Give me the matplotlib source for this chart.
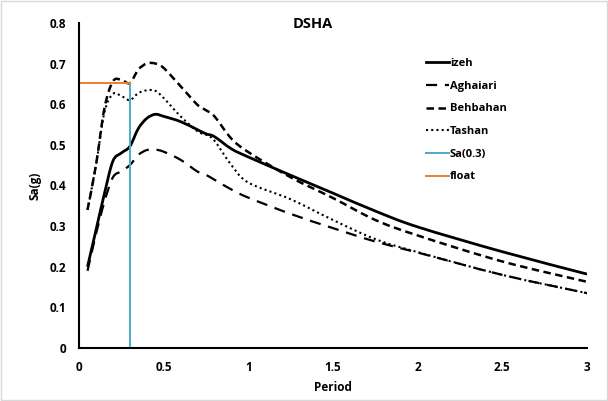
import matplotlib.pyplot as plt
from matplotlib.patches import Rectangle, PathPatch
from matplotlib.path import Path
from matplotlib.lines import Line2D

# Data.
period = [0.05, 0.1, 0.15, 0.2, 0.25, 0.3, 0.35, 0.4, 0.45, 0.5, 0.6, 0.7,
          0.75, 0.8, 0.9, 1.0, 1.25, 1.5, 1.75, 2.0, 2.5, 3.0]
izeh = [0.20, 0.29, 0.38, 0.46, 0.48, 0.496, 0.54, 0.565, 0.575, 0.57, 0.557,
        0.537, 0.527, 0.52, 0.49, 0.47, 0.425, 0.381, 0.337, 0.298, 0.237, 0.182]
aghaiari = [0.19, 0.28, 0.36, 0.42, 0.435, 0.45, 0.475, 0.487, 0.488, 0.483,
            0.463, 0.434, 0.426, 0.414, 0.39, 0.37, 0.33, 0.295, 0.262, 0.235,
            0.18, 0.135]
behbahan = [0.34, 0.45, 0.59, 0.656, 0.66, 0.652, 0.685, 0.70, 0.70, 0.689,
            0.644, 0.598, 0.585, 0.57, 0.515, 0.482, 0.42, 0.369, 0.315, 0.277,
            0.213, 0.163]
tashan = [0.34, 0.45, 0.58, 0.625, 0.62, 0.61, 0.627, 0.634, 0.633, 0.615,
          0.57, 0.533, 0.525, 0.51, 0.45, 0.407, 0.366, 0.315, 0.268, 0.236,
          0.18, 0.135]
sa_x = [0.3, 0.3]
sa_y = [0, 0.652]
float_x = [0, 0.3]
float_y = [0.652, 0.652]

plt.rcParams['font.family'] = ['Open Sans', 'DejaVu Sans']


def smooth_path(xs, ys):
    # Excel-like smoothed line: cubic Bezier segments through the points.
    pts = list(zip(xs, ys))
    n = len(pts)
    verts = [pts[0]]
    codes = [Path.MOVETO]
    for i in range(n - 1):
        p0 = pts[i - 1] if i > 0 else pts[i]
        p1 = pts[i]
        p2 = pts[i + 1]
        p3 = pts[i + 2] if i + 2 < n else pts[i + 1]
        c1 = (p1[0] + (p2[0] - p0[0]) / 6, p1[1] + (p2[1] - p0[1]) / 6)
        c2 = (p2[0] - (p3[0] - p1[0]) / 6, p2[1] - (p3[1] - p1[1]) / 6)
        verts += [c1, c2, p2]
        codes += [Path.CURVE4] * 3
    return Path(verts, codes)


fig = plt.figure(figsize=(6.08, 4.01), dpi=100)
ax = fig.add_axes([0.13, 0.132, 0.8355, 0.811])

styles = [
    ('izeh', izeh, dict(lw=2, linestyle='-')),
    ('Aghaiari', aghaiari, dict(lw=1.6, linestyle=(0, (5, 3.5)))),
    ('Behbahan', behbahan, dict(lw=1.8, linestyle=(0, (3, 1.8)))),
    ('Tashan', tashan, dict(lw=1.5, linestyle=(0, (1, 1.5)))),
]
handles = []
for name, vals, st in styles:
    ax.add_patch(PathPatch(smooth_path(period, vals), fill=False,
                           edgecolor='black', capstyle='butt', **st))
    handles.append(Line2D([], [], color='black', label=name, **st))

l1, = ax.plot(sa_x, sa_y, color='#4BACC6', lw=1.4, label='Sa(0.3)')
l2, = ax.plot(float_x, float_y, color='#ED7D31', lw=1.4, label='float')
handles += [l1, l2]

ax.set_xlim(0, 3)
ax.set_ylim(0, 0.8)
ax.set_xticks([0, 0.5, 1, 1.5, 2, 2.5, 3])
ax.set_xticklabels(['0', '0.5', '1', '1.5', '2', '2.5', '3'])
ax.set_yticks([0, 0.1, 0.2, 0.3, 0.4, 0.5, 0.6, 0.7, 0.8])
ax.set_yticklabels(['0', '0.1', '0.2', '0.3', '0.4', '0.5', '0.6', '0.7', '0.8'])
ax.tick_params(length=0, labelsize=8.5, pad=9)
for lab in ax.get_xticklabels() + ax.get_yticklabels():
    lab.set_fontweight('bold')

for s in ['top', 'right']:
    ax.spines[s].set_visible(False)
for s in ['left', 'bottom']:
    ax.spines[s].set_linewidth(1.5)

ax.set_xlabel('Period', fontsize=8.5, fontweight='bold', labelpad=5)
ax.set_ylabel('Sa(g)', fontsize=8.5, fontweight='bold', labelpad=6)

fig.text(0.515, 0.94, 'DSHA', ha='center', va='center', fontsize=10.5,
         fontweight='bold')

leg = ax.legend(handles=handles, loc='upper left', bbox_to_anchor=(0.685, 0.88),
                bbox_transform=fig.transFigure, frameon=False, fontsize=8,
                handlelength=2.0, handletextpad=0.1, labelspacing=1.05)
for t in leg.get_texts():
    t.set_fontweight('bold')

# Outer border of the chart area.
fig.patches.append(Rectangle((0.002, 0.002), 0.996, 0.996, transform=fig.transFigure,
                             fill=False, edgecolor='#d9d9d9', lw=1))

fig.savefig('out.png', dpi=100)
